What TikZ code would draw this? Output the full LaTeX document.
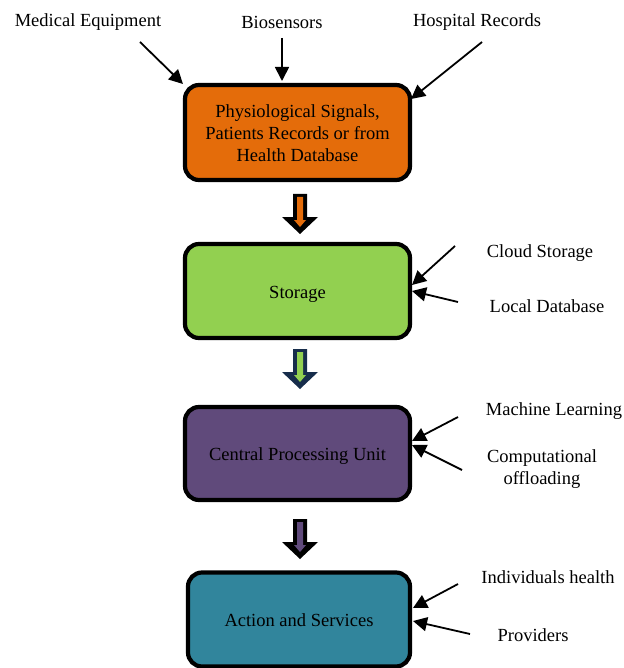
\documentclass[tikz,border=0pt]{standalone}
\usepackage{fontspec}
\setmainfont{Liberation Serif}
\usetikzlibrary{arrows.meta,calc}
\definecolor{orangeA}{RGB}{228,108,10}
\definecolor{greenA}{RGB}{146,208,80}
\definecolor{purpleA}{RGB}{96,74,123}
\definecolor{tealA}{RGB}{49,133,156}
\definecolor{navyA}{RGB}{23,45,75}
\tikzset{
  box/.style={draw=black, line width=4.2pt, rounded corners=14pt, minimum width=225pt, align=center, inner sep=0pt},
  lbl/.style={align=center, inner sep=0pt, font=\fontsize{18.5}{22}\selectfont},
  outer/.style={lbl, yshift=-2pt},
  ptr/.style={line width=1.8pt, -{Triangle[length=14pt,width=14pt]}},
}
\newcommand{\blockarrow}[4]{% x center, top y, outline colour, fill colour
  \fill[#3] (#1-7,#2) -- (#1+7,#2) -- (#1+7,#2+23) -- (#1+18,#2+23) -- (#1,#2+40) -- (#1-18,#2+23) -- (#1-7,#2+23) -- cycle;
  \fill[#4] (#1-3,#2+3) -- (#1+3,#2+3) -- (#1+3,#2+26) -- (#1+6,#2+26) -- (#1,#2+33) -- (#1-6,#2+26) -- (#1-3,#2+26) -- cycle;
}
\newcommand{\lowtext}[1]{\raisebox{-3pt}[\height][\depth]{\begin{tabular}{@{}c@{}}#1\end{tabular}}}
\begin{document}
\begin{tikzpicture}[x=1pt,y=-1pt]
\useasboundingbox (0,0) rectangle (623,668);
% boxes
\node[box, fill=orangeA, minimum height=95pt, lbl] (b1) at (297.5,132.5) {\lowtext{Physiological Signals,\\Patients Records or from\\Health Database}};
\node[box, fill=greenA, minimum height=94pt, lbl] (b2) at (297.5,291) {\lowtext{Storage}};
\node[box, fill=purpleA, minimum height=93pt, lbl] (b3) at (297.5,453.5) {\lowtext{Central Processing Unit}};
\node[box, fill=tealA, minimum height=94pt, minimum width=222pt, lbl] (b4) at (299,619.5) {\lowtext{Action and Services}};
% block arrows
\blockarrow{300}{194}{black}{orangeA}
\blockarrow{300}{349}{navyA}{greenA}
\blockarrow{300}{519}{black}{purpleA}
% top labels
\node[outer] (l1) at (88,20) {Medical Equipment};
\node[outer] (l2) at (282,20) {Biosensors};
\node[outer] (l3) at (477,20) {Hospital Records};
\coordinate (t1) at (140,42);
\coordinate (t2) at (282,38);
\coordinate (t3) at (482,42);
\draw[ptr] (t1) -- (183,84);
\draw[ptr] (t2) -- (282,81);
\draw[ptr] (t3) -- (411,99);
% storage labels
\node[outer] (l4) at (540,251) {Cloud Storage};
\node[outer] (l5) at (547,304) {Local Database};
\coordinate (t4) at (455,246);
\coordinate (t5) at (458,302);
\draw[ptr] (t4) -- (412,285);
\draw[ptr] (t5) -- (412,291);
% cpu labels
\node[outer] (l6) at (554,409) {Machine Learning};
\node[outer] (l7) at (542,467) {Computational\\offloading};
\coordinate (t6) at (458,417);
\coordinate (t7) at (462,470);
\draw[ptr] (t6) -- (412,441);
\draw[ptr] (t7) -- (412,445);
% action labels
\node[outer] (l8) at (548,575) {Individuals health};
\node[outer] (l9) at (533,633) {Providers};
\coordinate (t8) at (458,584);
\coordinate (t9) at (470,634);
\draw[ptr] (t8) -- (413,608);
\draw[ptr] (t9) -- (413,621);
\end{tikzpicture}
\end{document}
